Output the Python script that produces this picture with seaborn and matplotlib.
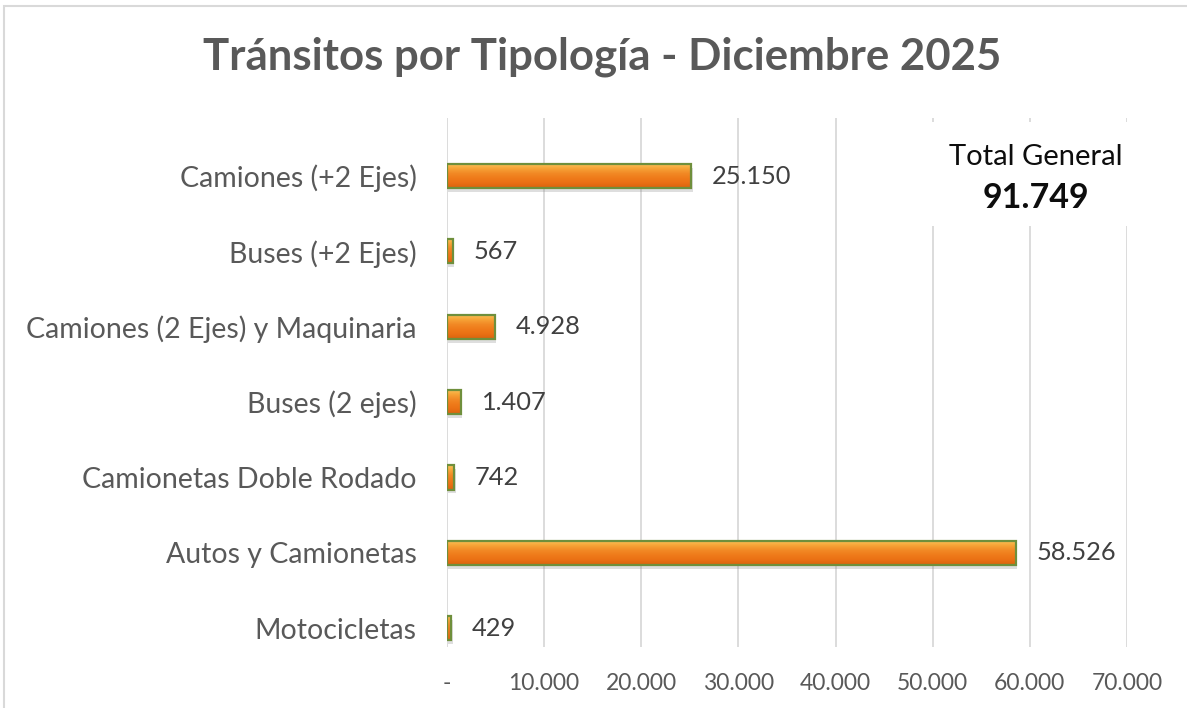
import matplotlib
matplotlib.use("Agg")
import matplotlib.pyplot as plt
import matplotlib.patches as mpatches
import matplotlib.colors as mcolors
import numpy as np
import pandas as pd
import seaborn as sns

# datos del grafico
categorias = ["Camiones (+2 Ejes)", "Buses (+2 Ejes)", "Camiones (2 Ejes) y Maquinaria",
              "Buses (2 ejes)", "Camionetas Doble Rodado", "Autos y Camionetas", "Motocicletas"]
transitos = [25150, 567, 4928, 1407, 742, 58526, 429]
total_general = 91749
ticks_x = [0, 10000, 20000, 30000, 40000, 50000, 60000, 70000]
titulo = "Tránsitos por Tipología - Diciembre 2025"

W, H = 1187, 708
FONT = ["Lato", "DejaVu Sans"]
GRIS = "#595959"


def miles(v):
    """formato 12.345 y '-' para cero"""
    if v == 0:
        return "-"
    return f"{v:,.0f}".replace(",", ".")


sns.set_theme(style="white")
plt.rcParams["font.family"] = FONT

df = pd.DataFrame({"categoria": categorias, "transitos": transitos})

fig = plt.figure(figsize=(W / 100, H / 100), dpi=100)
fig.patch.set_facecolor("white")
ax = fig.add_axes([447 / W, (H - 647) / H, 680 / W, 529 / H])

sns.barplot(data=df, x="transitos", y="categoria", orient="h", width=0.32,
            color="#ef7d1f", edgecolor="#6f8f3c", linewidth=1.6, ax=ax)

# degradado naranja dentro de cada barra
grad_cmap = mcolors.LinearSegmentedColormap.from_list(
    "naranja", ["#fcc45c", "#f7a538", "#f28a26", "#ef7b1a", "#ea7014", "#da630e"])
grad = np.linspace(0, 1, 64).reshape(-1, 1)
for p in ax.patches:
    x0, y0 = p.get_x(), p.get_y()
    w, h = p.get_width(), p.get_height()
    # sombra
    sombra = mpatches.Rectangle((x0 + 150, y0 + 0.05), w, h, facecolor="#7f7f7f",
                                edgecolor="none", alpha=0.25, zorder=p.get_zorder() - 0.2)
    ax.add_patch(sombra)
    im = ax.imshow(grad, extent=[x0, x0 + w, y0 + h, y0], aspect="auto", cmap=grad_cmap,
                   origin="upper", zorder=p.get_zorder() - 0.1, interpolation="bilinear")
    im.set_clip_path(p)
    p.set_facecolor("none")

ax.set_xlim(0, 70000)
ax.set_ylim(6.25, -0.77)
ax.set_xticks(ticks_x)
ax.set_xticklabels([miles(t) for t in ticks_x])
ax.set_xlabel("")
ax.set_ylabel("")
ax.grid(axis="x", color="#d9d9d9", linewidth=1.3)
ax.grid(axis="y", visible=False)
ax.set_axisbelow(True)
for s in ax.spines.values():
    s.set_visible(False)
ax.tick_params(axis="x", length=0, pad=19, labelsize=16.5, labelcolor=GRIS)
ax.tick_params(axis="y", length=0, pad=22, labelsize=20.5, labelcolor=GRIS)

# etiquetas de valor
ax.bar_label(ax.containers[0], labels=[miles(v) for v in transitos], padding=15,
             fontsize=18.3, color="#404040")

# recuadro total general
caja = mpatches.Rectangle((925 / W, 1 - 226 / H), 220 / W, 104 / H, transform=fig.transFigure,
                          facecolor="white", edgecolor="none", zorder=2, clip_on=False)
ax.add_patch(caja)
fig.text(1036 / W, 1 - 157 / H, "Total General", ha="center", va="center",
         fontsize=21, color="#0d0d0d")
fig.text(1036 / W, 1 - 198 / H, miles(total_general), ha="center", va="center",
         fontsize=24.5, fontweight="bold", color="#0d0d0d")

fig.text(602 / W, 1 - 57 / H, titulo, ha="center", va="center", fontsize=31.5,
         fontweight="bold", color=GRIS)

# borde del area del grafico
borde = mpatches.Rectangle((4 / W, -0.1), 1.2, 1.1 - 6 / H, transform=fig.transFigure,
                           facecolor="none", edgecolor="#d9d9d9", linewidth=1.5)
fig.add_artist(borde)

fig.savefig("out.png", dpi=100)
